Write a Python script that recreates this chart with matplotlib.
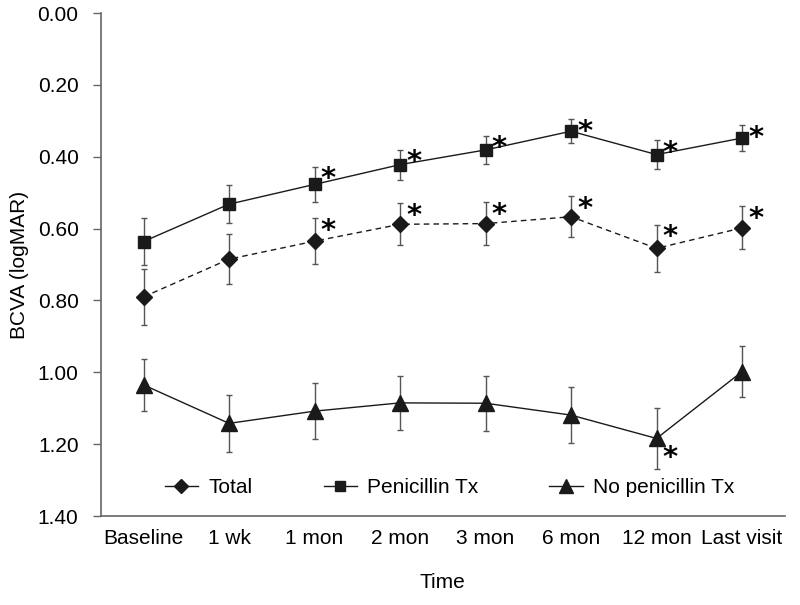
import matplotlib
matplotlib.use("Agg")
import matplotlib.pyplot as plt
from matplotlib.lines import Line2D

plt.rcParams['font.family'] = ["Liberation Sans", 'DejaVu Sans']

categories = ["Baseline", "1 wk", "1 mon", "2 mon", "3 mon", "6 mon", "12 mon", "Last visit"]

total_mean = [0.79, 0.685, 0.635, 0.588, 0.586, 0.567, 0.655, 0.598]
total_err = [0.078, 0.069, 0.064, 0.059, 0.059, 0.057, 0.066, 0.060]
total_star = [False, False, True, True, True, True, True, True]

pen_mean = [0.636, 0.532, 0.477, 0.422, 0.381, 0.329, 0.394, 0.348]
pen_err = [0.065, 0.053, 0.049, 0.042, 0.039, 0.033, 0.040, 0.035]
pen_star = [False, False, True, True, True, True, True, True]

nopen_mean = [1.035, 1.142, 1.108, 1.085, 1.086, 1.119, 1.184, 0.998]
nopen_err = [0.072, 0.080, 0.078, 0.075, 0.076, 0.078, 0.084, 0.070]
nopen_star = [False, False, False, False, False, False, True, False]

yticks = [0.0, 0.2, 0.4, 0.6, 0.8, 1.0, 1.2, 1.4]
series_labels = ["Total", "Penicillin Tx", "No penicillin Tx"]

fig = plt.figure(figsize=(8, 6.05), dpi=100)
ax = fig.add_axes([0.126, 0.147, 0.855, 0.8315])

x = list(range(len(categories)))
ecol = "#555555"
lcol = "#1a1a1a"

ax.errorbar(x, total_mean, yerr=total_err, fmt='D', ls='--', color=lcol, lw=1.0,
            ms=8, ecolor=ecol, elinewidth=1.0, capsize=2.5, capthick=1.0,
            dashes=(4, 3))
ax.errorbar(x, pen_mean, yerr=pen_err, fmt='s', ls='-', color=lcol, lw=1.0,
            ms=9, ecolor=ecol, elinewidth=1.0, capsize=2.5, capthick=1.0)
ax.errorbar(x, nopen_mean, yerr=nopen_err, fmt='^', ls='-', color=lcol, lw=1.0,
            ms=12, ecolor=ecol, elinewidth=1.0, capsize=2.5, capthick=1.0)

star_kw = dict(textcoords="offset points", ha="center", va="center", fontsize=21,
               fontweight="bold", family="DejaVu Sans")
for xi, m, e, s in zip(x, pen_mean, pen_err, pen_star):
    if s:
        ax.annotate("*", (xi, m - e), xytext=(10, -9), **star_kw)
for xi, m, e, s in zip(x, total_mean, total_err, total_star):
    if s:
        ax.annotate("*", (xi, m - e), xytext=(10, -9), **star_kw)
for xi, m, e, s in zip(x, nopen_mean, nopen_err, nopen_star):
    if s:
        ax.annotate("*", (xi, m), xytext=(10, -14), **star_kw)

ax.set_ylim(1.4, 0.0)
ax.set_xlim(-0.5, 7.5)
ax.set_yticks(yticks)
ax.set_yticklabels([f"{v:.2f}" for v in yticks])
ax.set_xticks(x)
ax.set_xticklabels(categories)
ax.tick_params(axis='x', length=0, pad=9, labelsize=15)
ax.tick_params(axis='y', length=6, width=1, color="#666666", labelsize=15, pad=10)
for sp in ["top", "right"]:
    ax.spines[sp].set_visible(False)
for sp in ["left", "bottom"]:
    ax.spines[sp].set_color("#666666")
    ax.spines[sp].set_linewidth(1.2)

ax.set_ylabel("BCVA (logMAR)", fontsize=15, labelpad=6)
ax.set_xlabel("Time", fontsize=15, labelpad=18)

handles = [
    Line2D([], [], color=lcol, lw=1.0, marker='D', ms=7),
    Line2D([], [], color=lcol, lw=1.0, marker='s', ms=7),
    Line2D([], [], color=lcol, lw=1.0, marker='^', ms=10),
]
ax.legend(handles, series_labels, loc="lower center", bbox_to_anchor=(0.51, 0.0),
          ncol=3, frameon=False, fontsize=15, handlelength=1.6,
          columnspacing=3.4, handletextpad=0.5)

fig.savefig("out.png", dpi=100)
